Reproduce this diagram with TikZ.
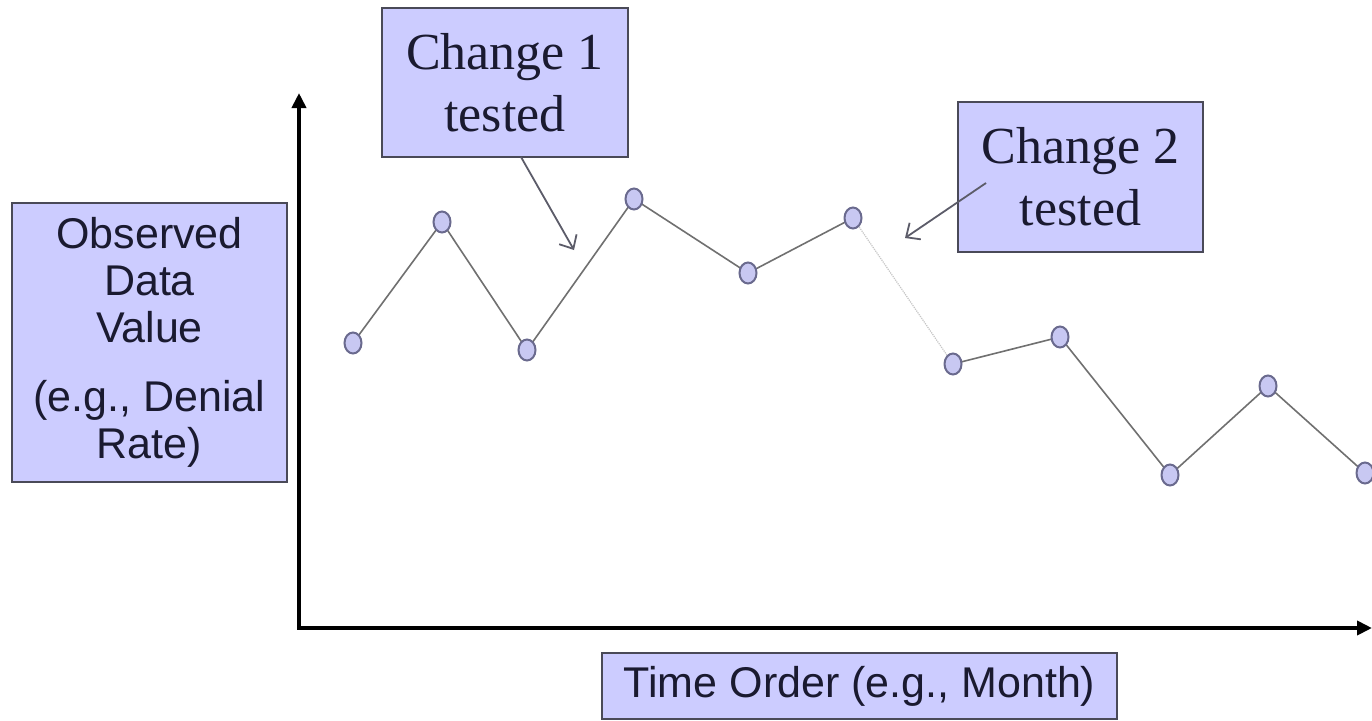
\documentclass[tikz,border=0pt]{standalone}
\usepackage{fontspec}
\setmainfont{Liberation Serif}
\setsansfont{Liberation Sans}
\usetikzlibrary{arrows.meta,shapes.geometric}
\definecolor{boxfill}{HTML}{CCCCFF}
\definecolor{boxline}{HTML}{4A4A58}
\definecolor{txt}{HTML}{1A1A30}
\definecolor{mfill}{HTML}{C8C8F2}
\definecolor{mline}{HTML}{6A6A8E}
\definecolor{seg}{HTML}{707070}
\tikzset{
  labelbox/.style={draw=boxline, line width=2pt, fill=boxfill, text=txt, inner sep=0pt, align=center},
  serifbox/.style={labelbox, font=\fontsize{52}{62}\selectfont\rmfamily},
  sansbox/.style={labelbox, font=\fontsize{43}{47}\selectfont\sffamily},
  marker/.style={ellipse, draw=mline, line width=2pt, fill=mfill, minimum width=17pt, minimum height=21pt, inner sep=0pt},
  dataline/.style={draw=seg, line width=1.6pt},
  faintline/.style={draw=gray!45, line width=1.2pt, densely dotted},
  axisline/.style={draw=black, line width=4pt, -{Triangle[length=15pt,width=14pt]}},
  pointer/.style={draw=boxline!90, line width=1.8pt, -{Straight Barb[length=11pt,width=20pt,line width=1.8pt]}}
}
\begin{document}
\begin{tikzpicture}[x=1pt,y=-1pt]
\useasboundingbox[fill=white] (0,0) rectangle (1372,720);

% axes
\coordinate (origin) at (299,628);
\coordinate (ytop) at (299,93);
\coordinate (xend) at (1372,628);
\draw[axisline] ([yshift=2pt]origin) -- (ytop);
\draw[axisline] ([xshift=-2pt]origin) -- (xend);

% data points
\coordinate (p1) at (353,343);
\coordinate (p2) at (442,222);
\coordinate (p3) at (527,350);
\coordinate (p4) at (634,199);
\coordinate (p5) at (748,273);
\coordinate (p6) at (853,218);
\coordinate (p7) at (953,364);
\coordinate (p8) at (1060,337);
\coordinate (p9) at (1170,475);
\coordinate (p10) at (1268,386);
\coordinate (p11) at (1365,473);

\draw[dataline] (p1) -- (p2) -- (p3) -- (p4) -- (p5) -- (p6);
\draw[faintline] (p6) -- (p7);
\draw[dataline] (p7) -- (p8) -- (p9) -- (p10) -- (p11);

\foreach \i in {1,...,11} { \node[marker] (m\i) at (p\i) {}; }

% label boxes
\node[serifbox, minimum width=246pt, minimum height=149pt] (c1) at (505,82.5) {Change 1\\tested};
\node[serifbox, minimum width=245pt, minimum height=150pt] (c2) at (1080.5,177) {Change 2\\tested};
\node[sansbox, minimum width=275pt, minimum height=279pt] (obs) at (149.5,342.5)
  {Observed\\Data\\Value\\[22pt](e.g., Denial\\Rate)};
\node[sansbox, minimum width=515pt, minimum height=66pt] (time) at (859.5,686) {Time Order (e.g., Month)};

% pointers
\coordinate (c1start) at (521,157);
\coordinate (c1tip) at (574,250);
\coordinate (c2start) at (986,183);
\coordinate (c2tip) at (905,238);
\draw[pointer] (c1start) -- (c1tip);
\draw[pointer] (c2start) -- (c2tip);
\end{tikzpicture}
\end{document}
